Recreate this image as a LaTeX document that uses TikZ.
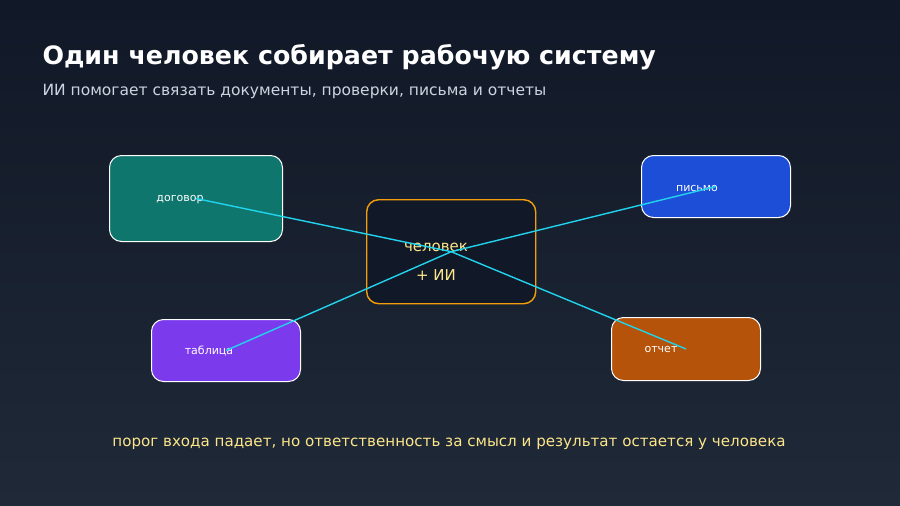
\documentclass[tikz,border=0pt]{standalone}
\usepackage{fontspec}
\setmainfont{DejaVu Sans}
\usetikzlibrary{positioning}
\definecolor{bgtop}{HTML}{111827}
\definecolor{bgbot}{HTML}{1F2937}
\definecolor{tealbox}{HTML}{0F766E}
\definecolor{bluebox}{HTML}{1D4ED8}
\definecolor{purplebox}{HTML}{7C3AED}
\definecolor{orangebox}{HTML}{B45309}
\definecolor{hubfill}{HTML}{111827}
\definecolor{hubline}{HTML}{F59E0B}
\definecolor{link}{HTML}{22D3EE}
\definecolor{note}{HTML}{FDE68A}
\definecolor{subgray}{HTML}{CBD5E1}
\tikzset{
  box/.style={draw=white, line width=1pt, rounded corners=12pt, anchor=north west},
  lab/.style={text=white, font=\fontsize{11}{13}\selectfont},
  link/.style={draw=link, line width=1.4pt}
}
\begin{document}
\begin{tikzpicture}[x=1pt,y=-1pt]
\shade[top color=bgtop, bottom color=bgbot] (0,0) rectangle (900,506);
\useasboundingbox (0,0) rectangle (900,506);
\node[anchor=west, text=white, font=\bfseries\fontsize{25.3}{31}\selectfont] (title) at (39,57) {Один человек собирает рабочую систему};
\node[anchor=west, text=subgray, font=\fontsize{15.5}{19}\selectfont] (sub) at (39,91) {ИИ помогает связать документы, проверки, письма и отчеты};
% boxes
\node[box, fill=tealbox, minimum width=173pt, minimum height=86pt] (contract) at (109,155) {};
\node[box, fill=bluebox, minimum width=149pt, minimum height=62pt] (letter) at (641,155) {};
\node[box, fill=purplebox, minimum width=149pt, minimum height=62pt] (table) at (151,319) {};
\node[box, fill=orangebox, minimum width=149pt, minimum height=63pt] (report) at (611,317) {};
\node[box, draw=hubline, line width=1.4pt, fill=hubfill, minimum width=169pt, minimum height=104pt] (hub) at (366,199) {};
% labels
\node[lab] (lcontract) at (180,200) {договор};
\node[lab] (lletter) at (697,188) {письмо};
\node[lab] (ltable) at (209,351) {таблица};
\node[lab] (lreport) at (661,349) {отчет};
\node[text=note, align=center, font=\fontsize{15}{29}\selectfont] (lhub) at (436,262) {человек\\+ ИИ};
% links
\draw[link] (contract.center) -- (hub.center) -- (report.center);
\draw[link] (table.center) -- (hub.center) -- (letter.center);
\node[text=note, font=\fontsize{15.1}{18}\selectfont] (note) at (449,444) {порог входа падает, но ответственность за смысл и результат остается у человека};
\end{tikzpicture}
\end{document}
